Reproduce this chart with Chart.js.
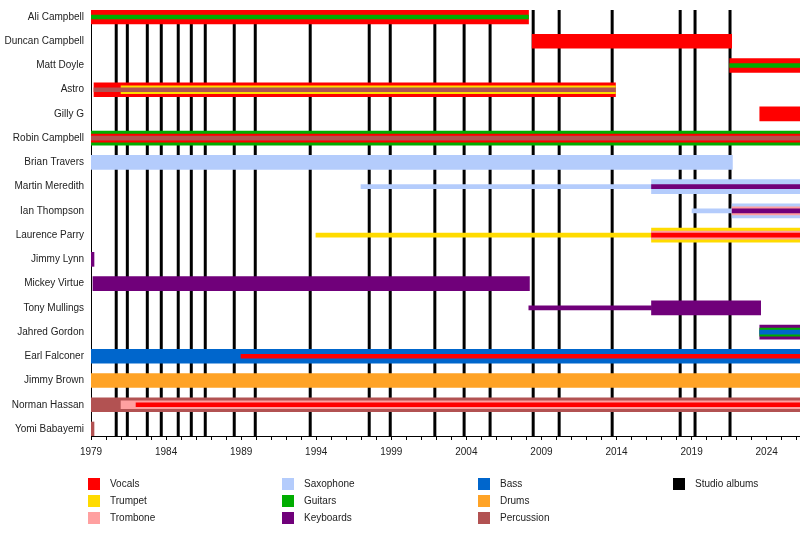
<!DOCTYPE html>
<html>
<head>
<meta charset="utf-8">
<script src="https://cdn.jsdelivr.net/npm/chart.js@4"></script>
<style>
  body { margin: 0; background: #fff; }
  #wrap { position: relative; width: 800px; height: 535px; overflow: hidden; }
  #legend { position: absolute; left: 0; top: 0; width: 800px; height: 535px; pointer-events: none;
            font: 10px 'Liberation Sans', Arial, sans-serif; color: #222; }
  .item { position: absolute; height: 12px; line-height: 12px; }
  .sw { position: absolute; left: 0; top: 0; width: 12px; height: 12px; }
  .lbl { position: absolute; left: 22px; top: 0; white-space: nowrap; }
</style>
</head>
<body>
<div id="wrap">
  <canvas id="grafica" width="800" height="535"></canvas>
  <div id="legend"></div>
</div>
<script>
const members = ['Ali Campbell', 'Duncan Campbell', 'Matt Doyle', 'Astro', 'Gilly G', 'Robin Campbell',
  'Brian Travers', 'Martin Meredith', 'Ian Thompson', 'Laurence Parry', 'Jimmy Lynn', 'Mickey Virtue',
  'Tony Mullings', 'Jahred Gordon', 'Earl Falconer', 'Jimmy Brown', 'Norman Hassan', 'Yomi Babayemi'];

const instruments = ['Vocals', 'Trumpet', 'Trombone', 'Saxophone', 'Guitars', 'Keyboards', 'Bass', 'Drums', 'Percussion'];

const albumYears = [1980.68, 1981.42, 1982.75, 1983.68, 1984.81, 1985.68, 1986.61, 1988.54, 1989.94,
  1993.60, 1997.53, 1998.93, 2001.90, 2003.85, 2005.58, 2008.45, 2010.18, 2013.71, 2018.24, 2019.23, 2021.56];

const startYear = 1979;
const present = 2026.22;

// [member, instrument, from, to]
const mainSpans = [
  ['Ali Campbell', 'Vocals', 1979, 2008.14],
  ['Duncan Campbell', 'Vocals', 2008.38, 2021.67],
  ['Matt Doyle', 'Vocals', 2021.54, present],
  ['Astro', 'Vocals', 1979.2, 2013.93],
  ['Gilly G', 'Vocals', 2023.54, present],
  ['Robin Campbell', 'Guitars', 1979, present],
  ['Brian Travers', 'Saxophone', 1979, 2021.72],
  ['Martin Meredith', 'Saxophone', 2016.33, present],
  ['Ian Thompson', 'Saxophone', 2021.7, present],
  ['Laurence Parry', 'Trumpet', 2016.33, present],
  ['Jimmy Lynn', 'Keyboards', 1979, 1979.2],
  ['Mickey Virtue', 'Keyboards', 1979.13, 2008.2],
  ['Tony Mullings', 'Keyboards', 2016.33, 2023.6],
  ['Jahred Gordon', 'Keyboards', 2023.54, present],
  ['Earl Falconer', 'Bass', 1979, present],
  ['Jimmy Brown', 'Drums', 1979, present],
  ['Norman Hassan', 'Percussion', 1979, present],
  ['Yomi Babayemi', 'Percussion', 1979, 1979.2]
];

const secondSpans = [
  ['Astro', 'Trumpet', 1981.0, 2013.93],
  ['Robin Campbell', 'Vocals', 1979, present],
  ['Ian Thompson', 'Trombone', 2021.7, present],
  ['Laurence Parry', 'Trombone', 2016.33, present],
  ['Jahred Gordon', 'Guitars', 2023.54, present],
  ['Norman Hassan', 'Trombone', 1981.0, present]
];

const thirdSpans = [
  ['Ali Campbell', 'Guitars', 1979, 2008.14],
  ['Matt Doyle', 'Guitars', 2021.54, present],
  ['Astro', 'Percussion', 1979.2, 2013.93],
  ['Robin Campbell', 'Percussion', 1979, present],
  ['Martin Meredith', 'Keyboards', 2016.33, present],
  ['Ian Thompson', 'Keyboards', 2021.7, present],
  ['Laurence Parry', 'Vocals', 2016.33, present],
  ['Jahred Gordon', 'Bass', 2023.54, present],
  ['Earl Falconer', 'Vocals', 1988.99, present],
  ['Norman Hassan', 'Vocals', 1982.0, present]
];

const touringSpans = [
  ['Martin Meredith', 'Saxophone', 1996.98, 2016.33],
  ['Ian Thompson', 'Saxophone', 2019.03, 2021.7],
  ['Laurence Parry', 'Trumpet', 1993.98, 2016.33],
  ['Tony Mullings', 'Keyboards', 2008.16, 2016.33]
];

// styles
const colors = {
  Vocals: '#ff0000', Trumpet: '#ffdb00', Trombone: '#ffa0a0', Saxophone: '#b4ccfc',
  Guitars: '#00ad00', Keyboards: '#70007a', Bass: '#0066cc', Drums: '#ffa326', Percussion: '#b25252'
};
const layers = [
  { spans: mainSpans, thickness: 14, order: 4 },
  { spans: touringSpans, thickness: 4, order: 4 },
  { spans: secondSpans, thickness: 8, order: 2 },
  { spans: thirdSpans, thickness: 4, order: 1 }
];

let datasets = [];
layers.forEach(layer => {
  instruments.forEach(inst => {
    let rows = layer.spans.filter(s => s[1] === inst);
    if (!rows.length) return;
    datasets.push({
      label: inst,
      data: rows.map(s => ({ x: [s[2], s[3]], y: members.indexOf(s[0]) })),
      backgroundColor: colors[inst],
      borderWidth: 0,
      borderSkipped: false,
      barThickness: layer.thickness,
      grouped: false,
      order: layer.order
    });
  });
});

const albumLines = {
  id: 'albumLines',
  beforeDatasetsDraw(chart) {
    const { ctx, chartArea, scales: { x } } = chart;
    ctx.save();
    ctx.strokeStyle = '#000';
    ctx.lineWidth = 3;
    albumYears.forEach(yr => {
      const px = x.getPixelForValue(yr);
      ctx.beginPath();
      ctx.moveTo(px, chartArea.top);
      ctx.lineTo(px, chartArea.bottom);
      ctx.stroke();
    });
    ctx.restore();
  }
};

const font = { family: "'Liberation Sans', Arial, sans-serif", size: 10 };

new Chart(document.getElementById('grafica').getContext('2d'), {
  type: 'bar',
  data: { datasets: datasets },
  plugins: [albumLines],
  options: {
    indexAxis: 'y',
    responsive: false,
    animation: false,
    layout: { padding: { top: 10, left: 0, right: 0, bottom: 0 } },
    plugins: { legend: { display: false }, tooltip: { enabled: false } },
    scales: {
      x: {
        type: 'linear',
        offset: false,
        min: startYear,
        max: present,
        grid: { drawOnChartArea: false, drawTicks: true, tickLength: 4, color: '#000' },
        border: { display: true, color: '#000', width: 1 },
        afterBuildTicks: scale => {
          let t = [];
          for (let y = startYear; y <= Math.floor(present); y++) t.push({ value: y });
          scale.ticks = t;
        },
        afterFit: scale => {
          scale.height = 99;
          scale.paddingLeft = 0;
          scale.paddingRight = 0;
        },
        ticks: {
          autoSkip: false, maxRotation: 0, padding: 6, color: '#222', font: font,
          callback: v => ((v - startYear) % 5 === 0 ? String(v) : '')
        }
      },
      y: {
        type: 'linear',
        offset: false,
        reverse: true,
        min: -0.289,
        max: members.length - 1 + 0.289,
        grid: { display: false, drawTicks: false, offset: false },
        border: { display: true, color: '#000', width: 1 },
        afterBuildTicks: scale => { scale.ticks = members.map((m, i) => ({ value: i })); },
        afterFit: scale => {
          scale.width = 91;
          scale.paddingTop = 0;
          scale.paddingBottom = 0;
        },
        ticks: {
          autoSkip: false, padding: 7, color: '#222', font: font,
          callback: v => members[v]
        }
      }
    }
  }
});

// legend below the chart
const legendItems = instruments.map(n => [n, colors[n]]).concat([['Studio albums', '#000']]);
const colX = [88, 282, 478, 673];
const legend = document.getElementById('legend');
legendItems.forEach((it, i) => {
  const d = document.createElement('div');
  d.className = 'item';
  d.style.left = colX[Math.floor(i / 3)] + 'px';
  d.style.top = (478 + (i % 3) * 17) + 'px';
  d.innerHTML = '<span class="sw" style="background:' + it[1] + '"></span><span class="lbl">' + it[0] + '</span>';
  legend.appendChild(d);
});
</script>
</body>
</html>
